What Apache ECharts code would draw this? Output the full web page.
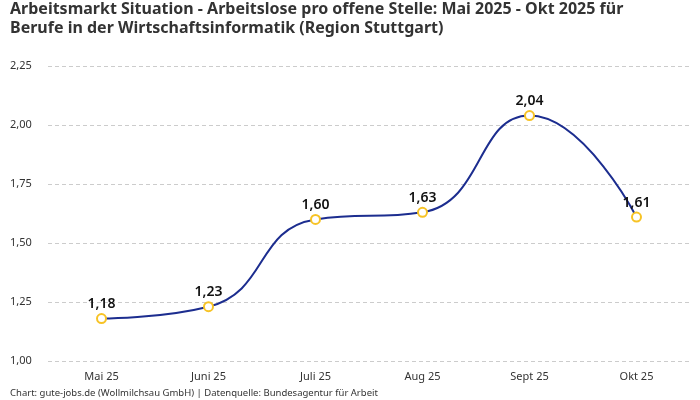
<!DOCTYPE html>
<html>
<head>
<meta charset="utf-8">
<script src="https://cdn.jsdelivr.net/npm/echarts@6/dist/echarts.min.js"></script>
<style>
  html, body { margin: 0; padding: 0; background: #fff; }
  #chart { width: 700px; height: 400px; }
</style>
</head>
<body>
<div id="chart"></div>
<script>
var months = ["Mai 25", "Juni 25", "Juli 25", "Aug 25", "Sept 25", "Okt 25"];
var ratio = [1.18, 1.23, 1.60, 1.63, 2.04, 1.61];

var fmt = function (v) { // Komma als Dezimaltrenner
    return Number(v).toFixed(2).replace(".", ",");
};

var myChart = echarts.init(document.getElementById("chart"), null, { renderer: "canvas" });

myChart.setOption({
    animation: false,
    textStyle: { fontFamily: "Noto Sans" },
    title: {
        text: "Arbeitsmarkt Situation - Arbeitslose pro offene Stelle: Mai 2025 - Okt 2025 für\nBerufe in der Wirtschaftsinformatik (Region Stuttgart)",
        left: 5,
        top: -5,
        textStyle: { fontSize: 16, fontWeight: "bold", color: "#333", lineHeight: 19, fontFamily: "Noto Sans" }
    },
    graphic: [{
        type: "text",
        left: 10,
        top: 388,
        style: {
            text: "Chart: gute-jobs.de (Wollmilchsau GmbH) | Datenquelle: Bundesagentur für Arbeit",
            fontSize: 9.5,
            fill: "#333",
            fontFamily: "Noto Sans"
        }
    }],
    grid: { left: 48, right: 10, top: 66, bottom: 39 },
    xAxis: {
        type: "category",
        data: months,
        axisLine: { show: false },
        axisTick: { show: false },
        axisLabel: { color: "#333", fontSize: 11, margin: 10 }
    },
    yAxis: {
        type: "value",
        min: 1,
        max: 2.25,
        interval: 0.25,
        axisLabel: {
            color: "#333",
            fontSize: 11,
            align: "left",
            margin: 38,
            formatter: fmt
        },
        splitLine: { lineStyle: { color: "#ccc", type: [4, 3] } }
    },
    series: [{
        type: "line",
        data: ratio,
        smooth: true,
        symbol: "circle",
        symbolSize: 9,
        lineStyle: { color: "#1c2d8f", width: 2 },
        itemStyle: { color: "#fff", borderColor: "#f7c325", borderWidth: 2 },
        label: {
            show: true,
            position: "top",
            distance: 2,
            color: "#111",
            fontSize: 14,
            fontWeight: 600,
            formatter: function (p) { return fmt(p.value); }
        }
    }]
});
</script>
</body>
</html>
